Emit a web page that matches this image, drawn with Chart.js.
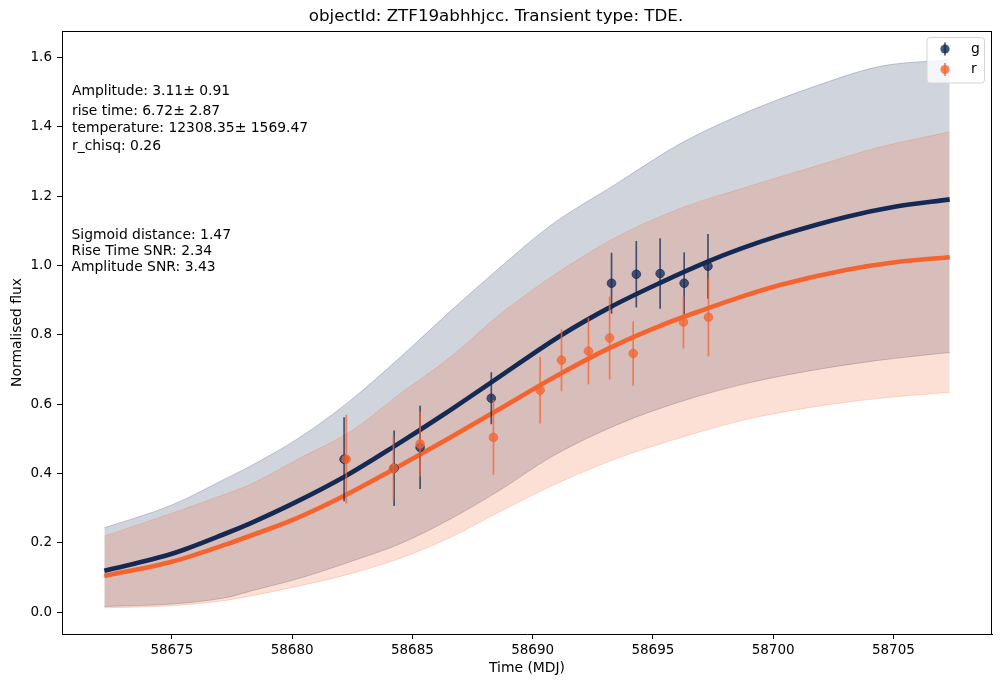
<!DOCTYPE html>
<html>
<head>
<meta charset="utf-8">
<script src="https://cdn.jsdelivr.net/npm/chart.js@4.4.1/dist/chart.umd.min.js"></script>
<style>
  html, body { margin: 0; padding: 0; background: #fff; }
  canvas { display: block; }
</style>
</head>
<body>
<canvas id="c" width="1001" height="687"></canvas>
<script>
// ---------------- data ----------------
const titleText = 'objectId: ZTF19abhhjcc. Transient type: TDE.';
const xTitle = 'Time (MDJ)';
const yTitle = 'Normalised flux';

// observed points, g band
const gTime = [58682.16, 58684.24, 58685.32, 58688.28, 58693.28, 58694.31, 58695.30, 58696.30, 58697.29];
const gFlux = [0.441, 0.415, 0.475, 0.617, 0.949, 0.975, 0.977, 0.949, 0.998];
const gErr  = [0.121, 0.109, 0.120, 0.075, 0.088, 0.096, 0.102, 0.089, 0.093];

// observed points, r band
const rTime = [58682.25, 58684.21, 58685.32, 58688.37, 58690.31, 58691.20, 58692.32, 58693.20, 58694.18, 58696.27, 58697.31];
const rFlux = [0.441, 0.415, 0.485, 0.504, 0.640, 0.727, 0.753, 0.791, 0.746, 0.837, 0.851];
const rErr  = [0.128, 0.091, 0.094, 0.108, 0.096, 0.090, 0.096, 0.120, 0.093, 0.076, 0.113];

// model curves
const modelTime = [58672.19, 58675.0, 58677.29, 58678.26, 58680.0, 58682.21, 58684.24, 58686.3, 58688.28, 58691.19, 58693.23, 58695.30, 58697.30, 58698.63, 58700.29, 58703.07, 58705.0, 58707.34];
const gModel = [0.119, 0.168, 0.228, 0.256, 0.312, 0.392, 0.478, 0.570, 0.663, 0.799, 0.880, 0.950, 1.012, 1.048, 1.087, 1.141, 1.169, 1.191];
const rModel = [0.104, 0.145, 0.196, 0.220, 0.265, 0.337, 0.413, 0.493, 0.572, 0.689, 0.763, 0.826, 0.877, 0.909, 0.944, 0.988, 1.009, 1.024];

// uncertainty bands
const bandTime = [58672.19, 58675.0, 58677.29, 58678.26, 58680.34, 58682.41, 58684.49, 58686.57, 58688.65, 58690.73, 58693.50, 58696.14, 58698.91, 58701.68, 58704.45, 58707.34];
const gUpper = [0.243, 0.309, 0.387, 0.421, 0.505, 0.610, 0.735, 0.868, 0.995, 1.115, 1.237, 1.352, 1.443, 1.516, 1.575, 1.594];
const gLower = [0.016, 0.023, 0.042, 0.060, 0.098, 0.145, 0.197, 0.268, 0.352, 0.446, 0.540, 0.607, 0.660, 0.698, 0.727, 0.749];
const rUpper = [0.219, 0.285, 0.342, 0.368, 0.445, 0.520, 0.630, 0.735, 0.860, 0.965, 1.083, 1.165, 1.227, 1.285, 1.342, 1.386];
const rLower = [0.012, 0.018, 0.034, 0.046, 0.076, 0.110, 0.155, 0.215, 0.290, 0.362, 0.443, 0.503, 0.556, 0.592, 0.617, 0.634];

// annotation texts
const fitLines = ['Amplitude: 3.11\u00b1 0.91', 'rise time: 6.72\u00b1 2.87', 'temperature: 12308.35\u00b1 1569.47', 'r_chisq: 0.26'];
const statLines = ['Sigmoid distance: 1.47', 'Rise Time SNR: 2.34', 'Amplitude SNR: 3.43'];
const legendLabels = ['g', 'r'];

// axis ranges & ticks
const xRange = [58670.43, 58709.10];
const yRange = [-0.0635, 1.677];
const xStep = 5;
const yStep = 0.2;

// ---------------- styling ----------------
const NAVY = '20,42,85';
const ORANGE = '245,100,47';
const FONT = 'DejaVu Sans';
const rgba = (c, a) => `rgba(${c},${a})`;
const pts = (xs, ys) => xs.map((x, i) => ({x, y: ys[i]}));

function bandDs(xs, ys, col, fill, order) {
  return {
    data: pts(xs, ys), borderColor: rgba(col, 0.22), backgroundColor: rgba(col, 0.2),
    borderWidth: 1, pointRadius: 0, fill: fill, cubicInterpolationMode: 'monotone', order
  };
}

const extras = {
  id: 'extras',
  beforeDatasetDraw(chart, args) {
    const ds = chart.data.datasets[args.index];
    if (!ds.errors) return;
    const xs = chart.scales.x, ys = chart.scales.y, ctx = chart.ctx;
    ctx.save();
    ctx.strokeStyle = ds.errColor;
    ctx.lineWidth = 1.7;
    ds.data.forEach((p, i) => {
      const px = xs.getPixelForValue(p.x);
      ctx.beginPath();
      ctx.moveTo(px, ys.getPixelForValue(p.y - ds.errors[i]));
      ctx.lineTo(px, ys.getPixelForValue(p.y + ds.errors[i]));
      ctx.stroke();
    });
    ctx.restore();
  },
  afterDraw(chart) {
    const ctx = chart.ctx, a = chart.chartArea;
    ctx.save();
    // frame (top and right spines)
    ctx.fillStyle = '#000';
    const L = Math.round(a.left), T = Math.round(a.top), R = Math.round(a.right), B = Math.round(a.bottom);
    ctx.fillRect(L, T, R - L, 1);
    ctx.fillRect(R - 1, T, 1, B - T);
    // annotation text
    ctx.fillStyle = '#000';
    ctx.font = `13.9px "${FONT}"`;
    ctx.textBaseline = 'middle';
    ctx.textAlign = 'left';
    const fitY = [91.7, 111, 128.7, 146.7];
    fitLines.forEach((t, i) => ctx.fillText(t, 72, fitY[i]));
    const statY = [235, 251.2, 267.4];
    statLines.forEach((t, i) => ctx.fillText(t, 71.5, statY[i]));
    // legend
    const bx = 927, by = 37.5, bw = 57.5, bh = 45.5, r = 3;
    ctx.beginPath();
    ctx.moveTo(bx + r, by);
    ctx.arcTo(bx + bw, by, bx + bw, by + bh, r);
    ctx.arcTo(bx + bw, by + bh, bx, by + bh, r);
    ctx.arcTo(bx, by + bh, bx, by, r);
    ctx.arcTo(bx, by, bx + bw, by, r);
    ctx.closePath();
    ctx.fillStyle = 'rgba(255,255,255,0.8)';
    ctx.fill();
    ctx.strokeStyle = '#d5d5d5';
    ctx.lineWidth = 1;
    ctx.stroke();
    const cols = [NAVY, ORANGE];
    const ly = [49, 69.5];
    legendLabels.forEach((lab, i) => {
      ctx.strokeStyle = rgba(cols[i], 0.8);
      ctx.lineWidth = 1.7;
      ctx.beginPath();
      ctx.moveTo(945, ly[i] - 6.5);
      ctx.lineTo(945, ly[i] + 6.5);
      ctx.stroke();
      ctx.fillStyle = rgba(cols[i], 0.8);
      ctx.beginPath();
      ctx.arc(945, ly[i], 4.6, 0, Math.PI * 2);
      ctx.fill();
      ctx.fillStyle = '#000';
      ctx.fillText(lab, 971, ly[i]);
    });
    ctx.restore();
  }
};

const tickFont = {family: FONT, size: 13.5};
const labelFont = {family: FONT, size: 13.9};

new Chart(document.getElementById('c'), {
  type: 'line',
  data: {
    datasets: [
      bandDs(bandTime, gUpper, NAVY, '+1', 10),
      bandDs(bandTime, gLower, NAVY, false, 9),
      bandDs(bandTime, rUpper, ORANGE, '+1', 8),
      bandDs(bandTime, rLower, ORANGE, false, 7),
      { data: pts(modelTime, gModel), borderColor: rgba(NAVY, 1), borderWidth: 4.6, pointRadius: 0, fill: false, cubicInterpolationMode: 'monotone', order: 6 },
      { data: pts(modelTime, rModel), borderColor: rgba(ORANGE, 1), borderWidth: 4.6, pointRadius: 0, fill: false, cubicInterpolationMode: 'monotone', order: 5 },
      { data: pts(gTime, gFlux), errors: gErr, errColor: rgba(NAVY, 0.75), showLine: false, pointRadius: 4.3, pointBackgroundColor: rgba(NAVY, 0.75), pointBorderColor: rgba(NAVY, 0.75), pointBorderWidth: 1, fill: false, order: 4 },
      { data: pts(rTime, rFlux), errors: rErr, errColor: rgba(ORANGE, 0.75), showLine: false, pointRadius: 4.3, pointBackgroundColor: rgba(ORANGE, 0.75), pointBorderColor: rgba(ORANGE, 0.75), pointBorderWidth: 1, fill: false, order: 3 }
    ]
  },
  options: {
    responsive: false,
    animation: false,
    devicePixelRatio: 1,
    layout: { padding: {left: 0, right: 9, top: 0, bottom: 0} },
    plugins: {
      legend: { display: false },
      tooltip: { enabled: false },
      title: {
        display: true, text: titleText, color: '#000',
        font: {family: FONT, size: 16.7, weight: 'normal'},
        padding: {top: 7, bottom: 3.96}
      }
    },
    scales: {
      x: {
        type: 'linear', min: xRange[0], max: xRange[1],
        afterFit: s => { s.height = 53; },
        ticks: { stepSize: xStep, includeBounds: false, autoSkip: false, maxRotation: 0, color: '#000', font: tickFont, padding: 3, callback: v => String(v) },
        grid: { display: true, drawOnChartArea: false, drawTicks: true, tickLength: 5, color: '#000', tickWidth: 1 },
        border: { display: true, color: '#000', width: 1 },
        title: { display: true, text: xTitle, color: '#000', font: labelFont, padding: {top: 0, bottom: 10} }
      },
      y: {
        type: 'linear', min: yRange[0], max: yRange[1],
        afterFit: s => { s.width = 62; },
        ticks: { stepSize: yStep, includeBounds: false, autoSkip: false, color: '#000', font: tickFont, padding: 5, callback: v => v.toFixed(1) },
        grid: { display: true, drawOnChartArea: false, drawTicks: true, tickLength: 5, color: '#000', tickWidth: 1 },
        border: { display: true, color: '#000', width: 1 },
        title: { display: true, text: yTitle, color: '#000', font: labelFont, padding: {top: 9, bottom: 0} }
      }
    }
  },
  plugins: [extras]
});
</script>
</body>
</html>
